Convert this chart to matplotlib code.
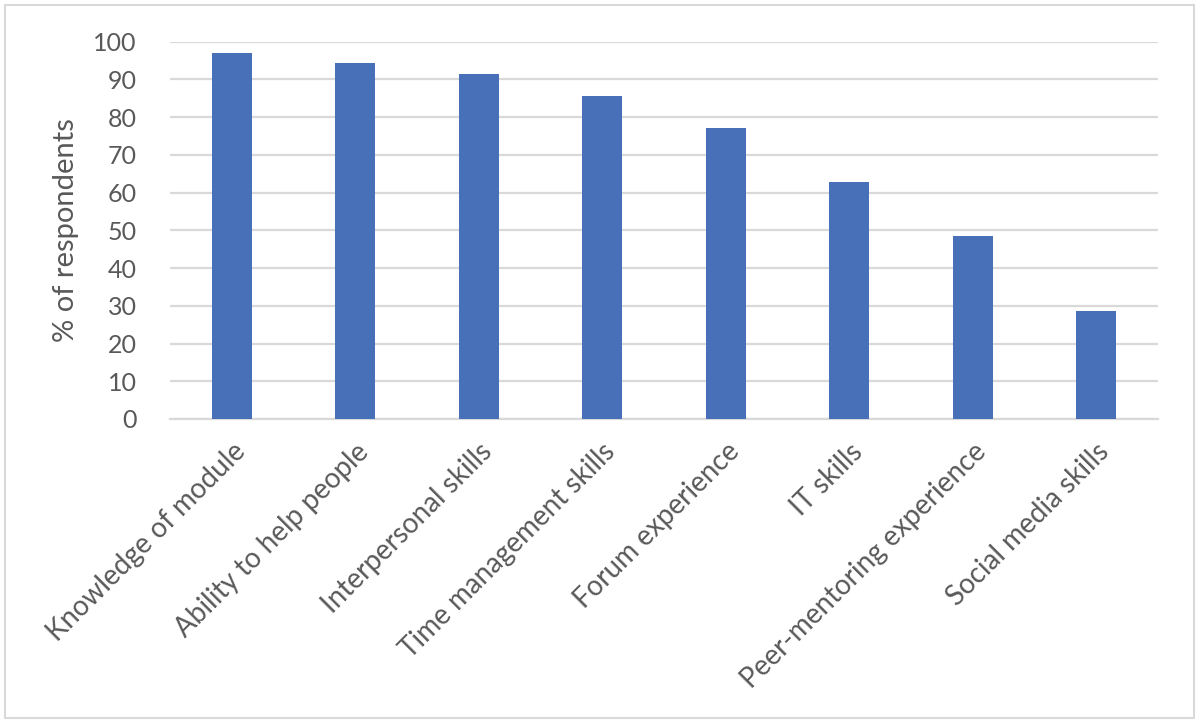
import matplotlib
matplotlib.use("Agg")
import matplotlib.pyplot as plt
from matplotlib.patches import Rectangle

categories = ["Knowledge of module", "Ability to help people", "Interpersonal skills",
              "Time management skills", "Forum experience", "IT skills",
              "Peer-mentoring experience", "Social media skills"]
values = [97.1, 94.3, 91.4, 85.7, 77.1, 62.9, 48.6, 28.6]
yticks = [0, 10, 20, 30, 40, 50, 60, 70, 80, 90, 100]

plt.rcParams['font.family'] = ['Lato', 'DejaVu Sans']
txt = '#595959'
grid = '#d9d9d9'

fig = plt.figure(figsize=(12, 7.26), dpi=100)
ax = fig.add_axes([170/1200, 1-419/726, (1158-170)/1200, (419-41.7)/726])

x = list(range(len(categories)))
ax.bar(x, values, width=0.32, color='#4770B9', zorder=3)
ax.set_xlim(-0.5, len(categories)-0.5)
ax.set_ylim(0, 100)
ax.set_yticks(yticks)
ax.set_yticklabels([str(v) for v in yticks], fontsize=18, color=txt)
ax.yaxis.grid(True, color=grid, linewidth=1.6, zorder=0)
ax.set_axisbelow(True)
for s in ['top', 'right', 'left']:
    ax.spines[s].set_visible(False)
ax.spines['bottom'].set_color(grid)
ax.spines['bottom'].set_linewidth(1.6)
ax.tick_params(axis='both', length=0)
ax.tick_params(axis='y', pad=24)
ax.set_xticks(x)
ax.set_xticklabels(categories, rotation=45, ha='right', rotation_mode='anchor',
                   fontsize=20, color=txt)
ax.tick_params(axis='x', pad=14)
ax.set_ylabel('% of respondents', fontsize=21, color=txt, labelpad=10)

fig.patches.append(Rectangle((5/1200, 8/726), 1189/1200, 713/726, transform=fig.transFigure,
                             fill=False, edgecolor='#d9d9d9', linewidth=1.5))

fig.savefig('out.png', dpi=100)
